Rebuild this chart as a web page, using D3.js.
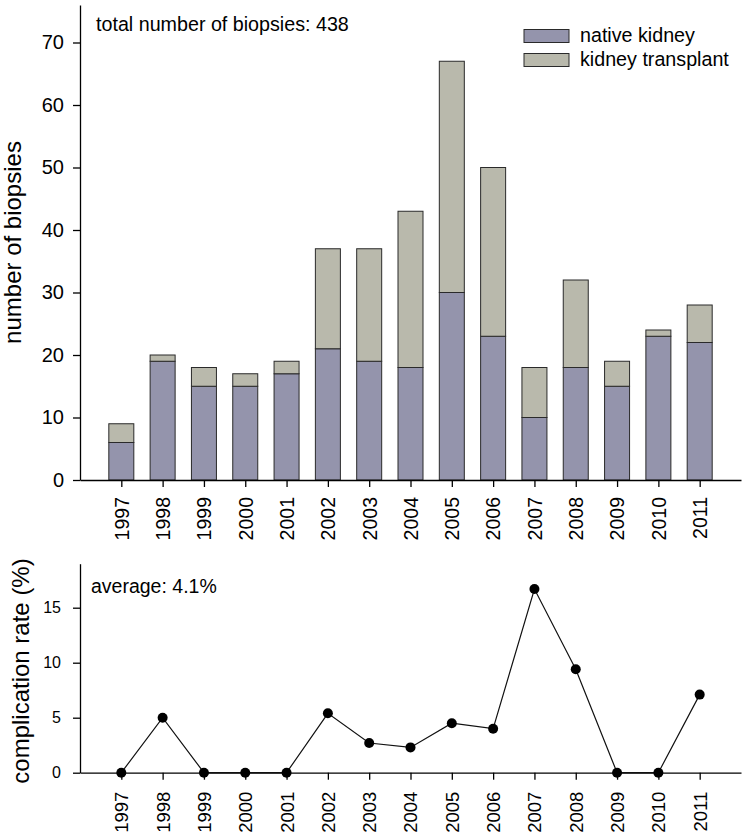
<!DOCTYPE html>
<html>
<head>
<meta charset="utf-8">
<script src="https://cdn.jsdelivr.net/npm/d3@7"></script>
<style>
  body { margin: 0; background: #fff; }
  svg { display: block; font-family: "Liberation Sans", Arial, sans-serif; }
</style>
</head>
<body>
<svg id="chart" width="747" height="837"></svg>
<script>
const years = [1997,1998,1999,2000,2001,2002,2003,2004,2005,2006,2007,2008,2009,2010,2011];
const nativeKidney = [6,19,15,15,17,21,19,18,30,23,10,18,15,23,22];
const kidneyTransplant = [3,1,3,2,2,16,18,25,37,27,8,14,4,1,6];
const complicationRate = [0,5,0,0,0,5.4,2.7,2.3,4.5,4.0,16.7,9.4,0,0,7.1];
const seriesNames = ["native kidney","kidney transplant"];
const seriesColors = ["#9494ac","#b9b9ac"];
const topTicks = [0,10,20,30,40,50,60,70];
const bottomTicks = [0,5,10,15];

const svg = d3.select("#chart");

// ---------- top chart ----------
const x = d3.scaleLinear().domain([1996, 2012]).range([80, 741]);
const yTop = d3.scaleLinear().domain([0, 76]).range([480, 5]);
const barW = 25;

const rows = years.map((yr, i) => ({year: yr, native: nativeKidney[i], transplant: kidneyTransplant[i]}));
const stack = d3.stack().keys(["native","transplant"])(rows);

const gBars = svg.append("g");
stack.forEach((layer, li) => {
  gBars.selectAll(null).data(layer).enter().append("rect")
    .attr("x", d => x(d.data.year) - barW/2)
    .attr("width", barW)
    .attr("y", d => yTop(d[1]))
    .attr("height", d => yTop(d[0]) - yTop(d[1]))
    .attr("fill", seriesColors[li])
    .attr("stroke", "#2a2a2a")
    .attr("stroke-width", 1);
});

const yAxisTop = d3.axisLeft(yTop).tickValues(topTicks).tickSize(7).tickSizeOuter(0).tickPadding(9);
const gyT = svg.append("g").attr("transform", "translate(80,0)").call(yAxisTop);
gyT.selectAll("text").style("font-size", "20px").attr("fill", "#000");

const xAxisTop = d3.axisBottom(x).tickValues(years).tickFormat(d3.format("d")).tickSize(7).tickSizeOuter(0);
const gxT = svg.append("g").attr("transform", "translate(0,480)").call(xAxisTop);
gxT.selectAll("text")
  .style("font-size", "19.5px").attr("fill", "#000")
  .attr("transform", "rotate(-90)")
  .attr("text-anchor", "end")
  .attr("x", -17).attr("y", 0).attr("dy", "0.35em");

[gyT, gxT].forEach(g => {
  g.select(".domain").attr("stroke", "#000").attr("stroke-width", 1.3);
  g.selectAll(".tick line").attr("stroke", "#000").attr("stroke-width", 1.3);
});

svg.append("text")
  .attr("transform", "translate(21,242.5) rotate(-90)")
  .attr("text-anchor", "middle")
  .style("font-size", "24px").attr("fill", "#000")
  .text("number of biopsies");

svg.append("text")
  .attr("x", 96).attr("y", 31)
  .style("font-size", "19.7px").attr("fill", "#000")
  .text("total number of biopsies: 438");

const legend = svg.append("g");
seriesNames.forEach((name, i) => {
  legend.append("rect")
    .attr("x", 524).attr("y", 29.5 + i*24)
    .attr("width", 45).attr("height", 13)
    .attr("fill", seriesColors[i]).attr("stroke", "#2a2a2a").attr("stroke-width", 1);
  legend.append("text")
    .attr("x", 580).attr("y", 42 + i*24)
    .style("font-size", "19.7px").attr("fill", "#000")
    .text(name);
});

// ---------- bottom chart ----------
const yBot = d3.scaleLinear().domain([0, 19]).range([772.7, 563.7]);

const yAxisBot = d3.axisLeft(yBot).tickValues(bottomTicks).tickSize(7).tickSizeOuter(0).tickPadding(12);
const gyB = svg.append("g").attr("transform", "translate(80,0)").call(yAxisBot);
gyB.selectAll("text").style("font-size", "16px").attr("fill", "#000");

const xAxisBot = d3.axisBottom(x).tickValues(years).tickFormat(d3.format("d")).tickSize(7).tickSizeOuter(0);
const gxB = svg.append("g").attr("transform", "translate(0,772.7)").call(xAxisBot);
gxB.selectAll("text")
  .style("font-size", "18.5px").attr("fill", "#000")
  .attr("transform", "rotate(-90)")
  .attr("text-anchor", "end")
  .attr("x", -19).attr("y", 0).attr("dy", "0.35em");

[gyB, gxB].forEach(g => {
  g.select(".domain").attr("stroke", "#000").attr("stroke-width", 1.3);
  g.selectAll(".tick line").attr("stroke", "#000").attr("stroke-width", 1.3);
});

const pts = years.map((yr, i) => ({year: yr, v: complicationRate[i]}));
svg.append("path")
  .datum(pts)
  .attr("fill", "none").attr("stroke", "#111").attr("stroke-width", 1.2)
  .attr("d", d3.line().x(d => x(d.year)).y(d => yBot(d.v)));
svg.selectAll(null).data(pts).enter().append("circle")
  .attr("cx", d => x(d.year)).attr("cy", d => yBot(d.v))
  .attr("r", 5).attr("fill", "#000");

svg.append("text")
  .attr("transform", "translate(29,671) rotate(-90)")
  .attr("text-anchor", "middle")
  .style("font-size", "24px").attr("fill", "#000")
  .text("complication rate (%)");

svg.append("text")
  .attr("x", 91).attr("y", 593)
  .style("font-size", "19.5px").attr("fill", "#000")
  .text("average: 4.1%");
</script>
</body>
</html>
